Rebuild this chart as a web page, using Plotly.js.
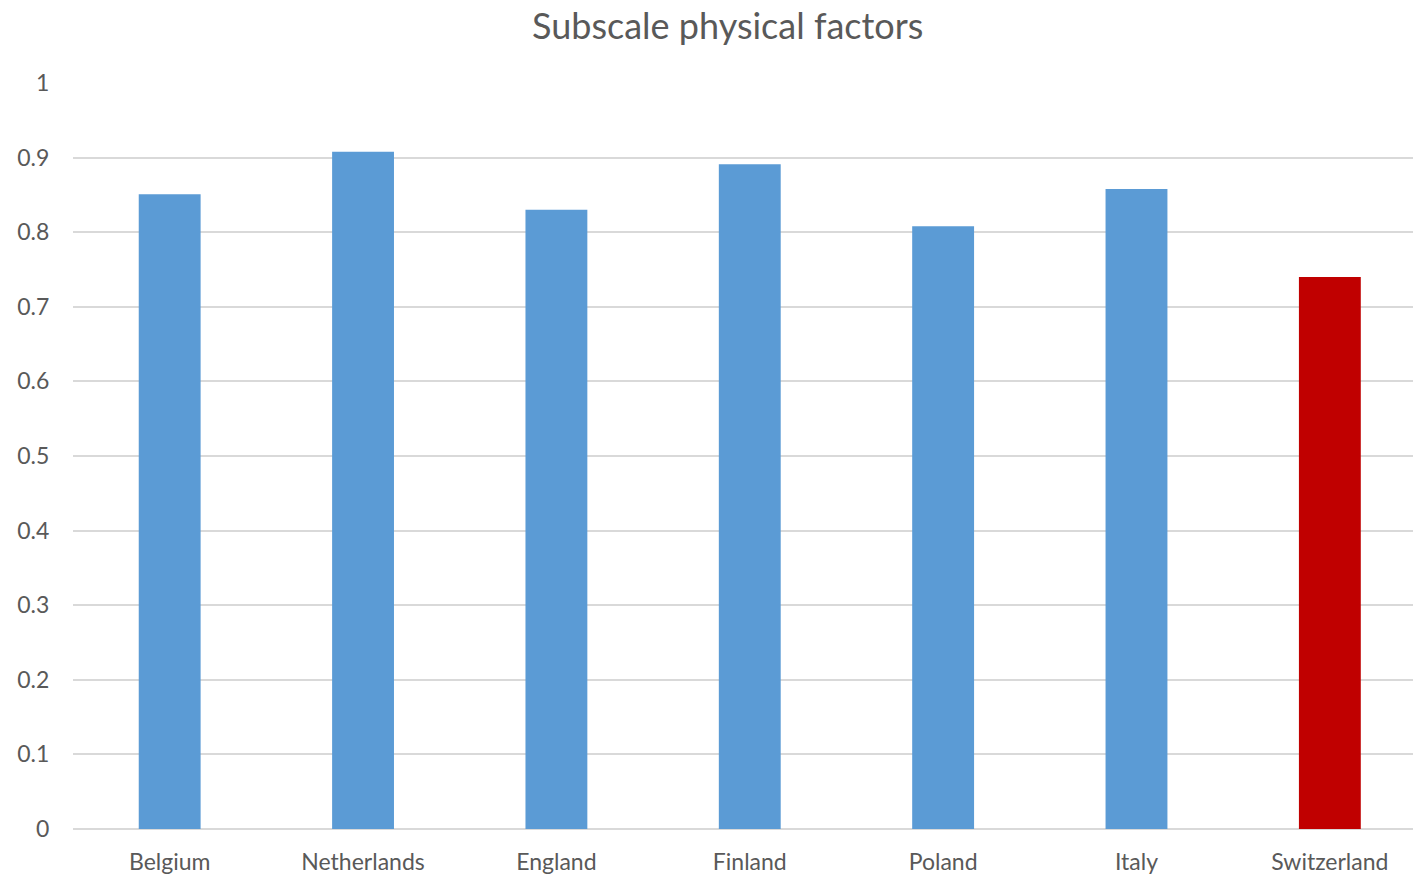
<!DOCTYPE html>
<html>
<head>
<meta charset="utf-8">
<script src="https://cdn.plot.ly/plotly-3.0.1.min.js"></script>
<style>html,body{margin:0;padding:0;background:#fff;}#chart{width:1413px;height:879px;}</style>
</head>
<body>
<div id="chart"></div>
<script>
const countries = ["Belgium", "Netherlands", "England", "Finland", "Poland", "Italy", "Switzerland"];
const scores = [0.851, 0.908, 0.830, 0.891, 0.808, 0.858, 0.740];
const barColors = ["#5B9BD5", "#5B9BD5", "#5B9BD5", "#5B9BD5", "#5B9BD5", "#5B9BD5", "#C00000"];
const yTicks = [0, 0.1, 0.2, 0.3, 0.4, 0.5, 0.6, 0.7, 0.8, 0.9, 1];
const yTickText = ["0", "0.1", "0.2", "0.3", "0.4", "0.5", "0.6", "0.7", "0.8", "0.9", "1"];

const font = "Lato, 'Open Sans', sans-serif";
Plotly.newPlot("chart", [{
  type: "bar",
  x: countries,
  y: scores,
  marker: {color: barColors},
  width: 0.32,
  hoverinfo: "x+y"
}], {
  width: 1413, height: 879,
  paper_bgcolor: "#fff", plot_bgcolor: "#fff",
  margin: {l: 73, r: 0, t: 83, b: 50},
  title: {text: "Subscale physical factors", font: {family: font, size: 36, color: "#595959"}, x: 0.515, xanchor: "center", y: 0.97, yanchor: "middle"},
  showlegend: false,
  xaxis: {
    type: "category",
    range: [-0.5, 6.43],
    showgrid: false, zeroline: false, showline: false,
    ticks: "outside", ticklen: 12, tickcolor: "rgba(0,0,0,0)",
    tickfont: {family: font, size: 23, color: "#595959"},
    fixedrange: true
  },
  yaxis: {
    range: [0, 1],
    tickvals: yTicks, ticktext: yTickText,
    showgrid: true, gridcolor: "#D9D9D9", gridwidth: 2,
    zeroline: true, zerolinecolor: "#D9D9D9", zerolinewidth: 2,
    showline: false,
    ticks: "outside", ticklen: 18, tickcolor: "rgba(0,0,0,0)",
    tickfont: {family: font, size: 23, color: "#595959"},
    fixedrange: true
  }
}, {displayModeBar: false, staticPlot: true});
</script>
</body>
</html>
